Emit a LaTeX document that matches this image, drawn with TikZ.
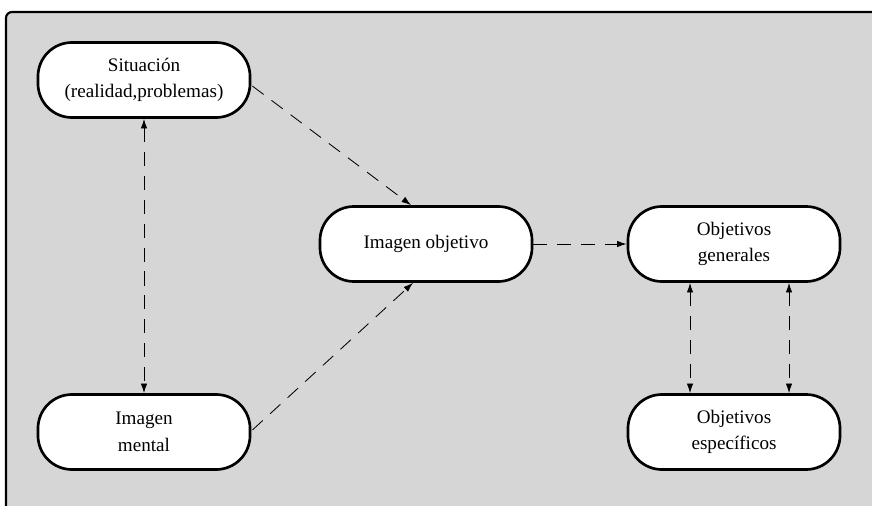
\documentclass[tikz,border=0pt]{standalone}
\usepackage{fontspec}
\setmainfont{Liberation Serif}
\usepackage{xcolor}
\usepackage{tikz}
\usetikzlibrary{shapes,arrows,positioning,calc,arrows.meta}
\definecolor{fondo}{RGB}{214,214,214}

\begin{document}
\begin{tikzpicture}[x=0.025cm,y=-0.025cm,
        caja/.style={draw,line width=1.9pt,fill=white,rounded corners=0.85cm,
            minimum width=5.3cm,minimum height=1.875cm,align=center,
            font=\fontsize{13.6}{19}\selectfont},
        flecha/.style={line width=0.6pt,dash pattern=on 10pt off 7pt,
            -{Latex[length=2.4mm,width=1.6mm]}},
        dobleflecha/.style={flecha,{Latex[length=2.4mm,width=1.6mm]}-{Latex[length=2.4mm,width=1.6mm]}}]
        \useasboundingbox (0,0) rectangle (872,505);
        % Background frame
        \begin{scope}
            \clip (0,0) rectangle (872,505);
            \draw[line width=1.5pt,fill=fondo,rounded corners=0.15cm] (6,12) rectangle (890,520);
        \end{scope}
        
        % Boxes
        \node[caja] (sit) at (144,80) {Situación\\(realidad,problemas)};
        \node[caja] (men) at (144,432) {Imagen\\mental};
        \node[caja] (obj) at (426,244) {Imagen objetivo};
        \node[caja] (gen) at (734,244) {Objetivos\\generales};
        \node[caja] (esp) at (734,432) {Objetivos\\específicos};
        
        % Connectors
        \draw[dobleflecha] (sit.south) -- (men.north);
        \draw[flecha] ($(sit.east)+(1,6)$) -- ($(obj.north)+(-15,0)$);
        \draw[flecha] ($(men.east)+(1,-2)$) -- ($(obj.south)+(-13,0)$);
        \draw[flecha] (obj.east) -- (gen.west);
        \draw[dobleflecha] ($(gen.south)+(-44,0)$) -- ($(esp.north)+(-44,0)$);
        \draw[dobleflecha] ($(gen.south)+(55,0)$) -- ($(esp.north)+(55,0)$);
    \end{tikzpicture}
\end{document}
